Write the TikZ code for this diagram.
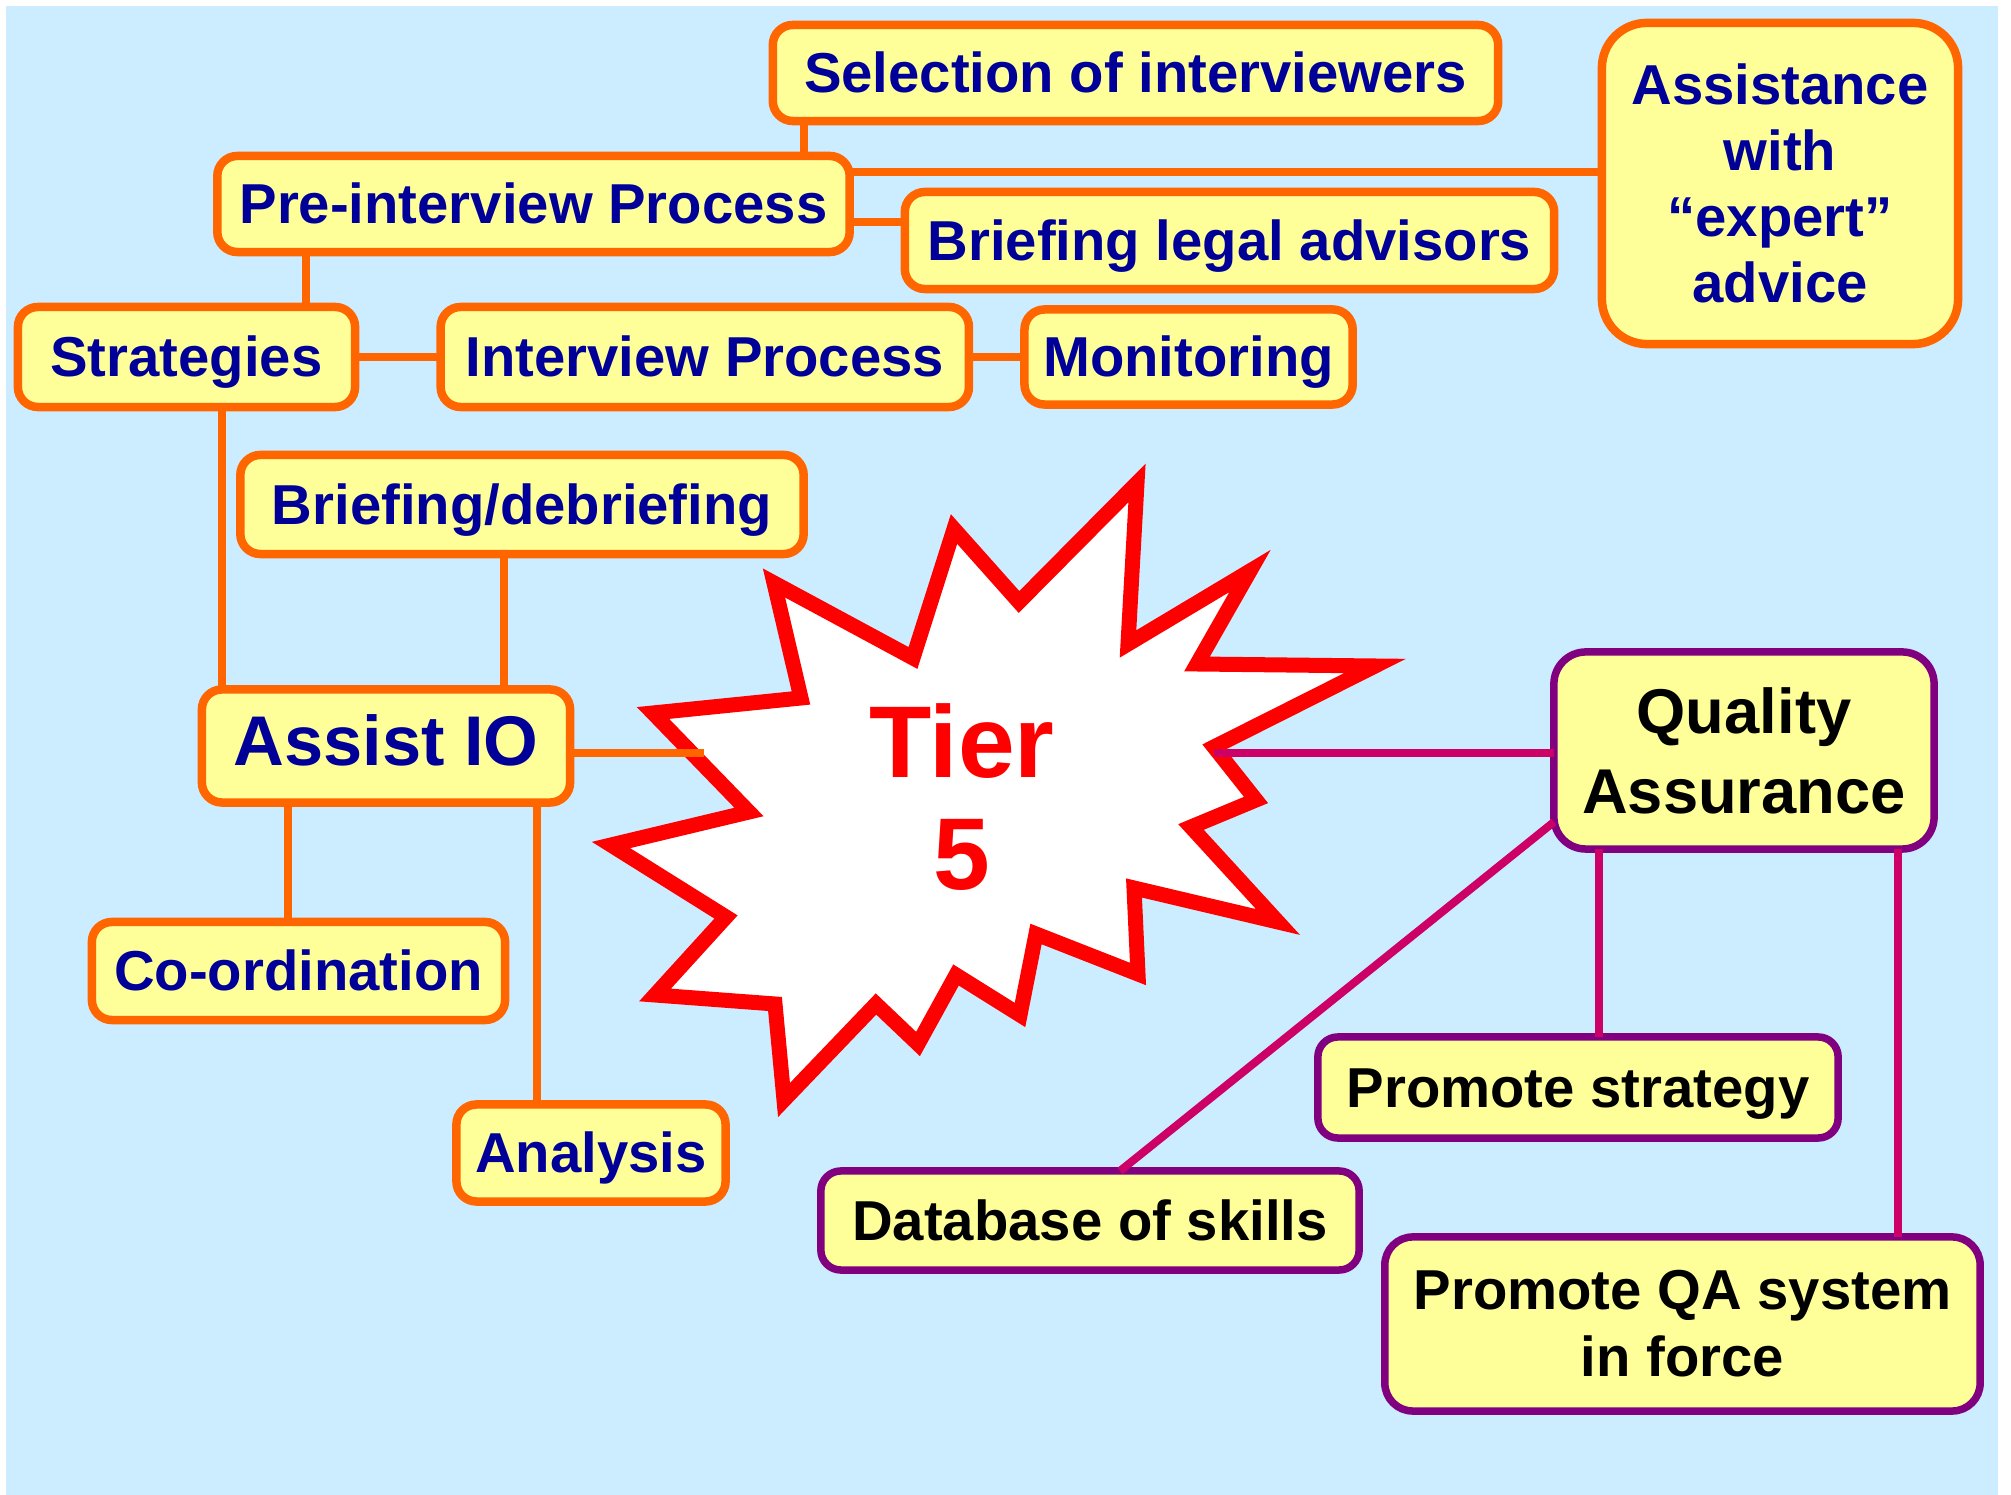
\documentclass[tikz,border=0pt]{standalone}
\usepackage{fontspec}
\setmainfont{Liberation Sans}
\usetikzlibrary{positioning}
\definecolor{skyback}{HTML}{CCECFF}
\definecolor{boxfill}{HTML}{FFFF99}
\definecolor{orangeline}{HTML}{FF6600}
\definecolor{navytext}{HTML}{000099}
\definecolor{purpleline}{HTML}{800080}
\definecolor{magentaline}{HTML}{CC0066}
\definecolor{burstred}{HTML}{FF0000}

\tikzset{
  bubble/.style={draw=orangeline, fill=boxfill, line width=0.085cm, rounded corners=0.2cm,
    inner sep=0pt, outer sep=0pt, align=center, text=navytext, font=\fontsize{16}{19}\selectfont\bfseries},
  oneline/.style={text height=13.1pt, text depth=2pt},
  qabubble/.style={bubble, draw=purpleline, line width=0.075cm, text=black},
  link/.style={draw=orangeline, line width=0.085cm},
  qalink/.style={draw=magentaline, line width=0.08cm},
  burst/.style={draw=burstred, fill=white, line width=0.15cm, line join=miter}
}

\begin{document}
\begin{tikzpicture}[x=0.01cm, y=-0.01cm]
  \useasboundingbox (0,0) rectangle (2011,1495);
  \fill[white] (0,0) rectangle (2011,1495);
  \fill[skyback] (6,6) rectangle (1998,1495);

  % The burst
  \draw[burst] (1137,483) -- (1128,644) -- (1250,571) -- (1197,664) -- (1375,666)
    -- (1214,747) -- (1256,800) -- (1191,827) -- (1278,922) -- (1134,888)
    -- (1138,974) -- (1036,934) -- (1020,1015) -- (956,975) -- (918,1044)
    -- (876,1004) -- (784,1100) -- (775,1004) -- (655,995) -- (726,917)
    -- (611,845) -- (749,812) -- (653,713) -- (801,698) -- (774,583)
    -- (913,658) -- (954,529) -- (1019,602) -- cycle;
  \node[text=burstred, font=\fontsize{29}{32}\selectfont\bfseries, align=center] (tier) at (962,797) {Tier\\5};
  \coordinate (tierW) at (704,753);
  \coordinate (tierE) at (1214,753);

  % Define nodes
  \node[bubble, oneline, minimum width=7.25cm, minimum height=0.96cm] (sel) at (1135.5,73) {Selection of interviewers};
  \node[bubble, rounded corners=0.45cm, minimum width=3.56cm, minimum height=3.21cm,
    font=\fontsize{16}{18.8}\selectfont\bfseries] (expert) at (1780,183.5) {Assistance\\with\\“expert”\\advice};
  \node[bubble, oneline, minimum width=6.32cm, minimum height=0.96cm] (pre) at (533.5,204) {Pre-interview Process};
  \node[bubble, oneline, minimum width=6.49cm, minimum height=0.97cm] (legal) at (1229.5,240.5) {Briefing legal advisors};
  \node[bubble, oneline, minimum width=3.37cm, minimum height=1cm] (strat) at (186.5,357) {Strategies};
  \node[bubble, oneline, minimum width=5.28cm, minimum height=1cm, right=0.855cm of strat] (iview) {Interview Process};
  \node[bubble, oneline, minimum width=3.28cm, minimum height=0.95cm, right=0.555cm of iview] (monit) {Monitoring};
  \node[bubble, oneline, minimum width=5.63cm, minimum height=0.99cm] (debrief) at (522,504.5) {Briefing/debriefing};
  \node[bubble, minimum width=3.68cm, minimum height=1.13cm, text height=15pt, text depth=4pt,
    font=\fontsize{20}{24}\selectfont\bfseries] (assist) at (386,746) {Assist IO};
  \node[bubble, oneline, minimum width=4.13cm, minimum height=0.98cm] (coord) at (298.5,971) {Co-ordination};
  \node[bubble, oneline, minimum width=2.69cm, minimum height=0.97cm] (analysis) at (591,1153) {Analysis};
  \node[qabubble, rounded corners=0.32cm, minimum width=3.8cm, minimum height=1.97cm,
    font=\fontsize{18}{22.8}\selectfont\bfseries] (qa) at (1744,750.5) {Quality\\Assurance};
  \node[qabubble, oneline, minimum width=5.2cm, minimum height=1.01cm] (pstrat) at (1578,1087.5) {Promote strategy};
  \node[qabubble, oneline, minimum width=5.38cm, minimum height=0.99cm] (dbase) at (1090,1220.5) {Database of skills};
  \node[qabubble, rounded corners=0.28cm, minimum width=5.95cm, minimum height=1.74cm] (pqa) at (1682.5,1324)
    {Promote QA system\\in force};

  % Orange links
  \draw[link] (pre.north -| 804,0) -- (sel.south -| 804,0);
  \draw[link] (pre.east |- 0,172) -- (expert.west |- 0,172);
  \draw[link] (pre.east |- 0,222) -- (legal.west |- 0,222);
  \draw[link] (pre.south -| 306,0) -- (strat.north -| 306,0);
  \draw[link] (strat) -- (iview);
  \draw[link] (iview) -- (monit);
  \draw[link] (strat.south -| 222,0) -- (assist.north -| 222,0);
  \draw[link] (debrief.south -| 504,0) -- (assist.north -| 504,0);
  \draw[link] (assist.south -| 288,0) -- (coord.north -| 288,0);
  \draw[link] (assist.south -| 537,0) -- (analysis.north -| 537,0);
  \draw[link] (assist.east |- tierW) -- (tierW);

  % Magenta links
  \draw[qalink] (tierE) -- (qa.west |- tierE);
  \draw[qalink] (qa.south -| 1599,0) -- (pstrat.north -| 1599,0);
  \draw[qalink] (qa.south -| 1898,0) -- (pqa.north -| 1898,0);
  \draw[qalink] (qa.west |- 0,822) -- (dbase.north -| 1120,0);
\end{tikzpicture}
\end{document}
